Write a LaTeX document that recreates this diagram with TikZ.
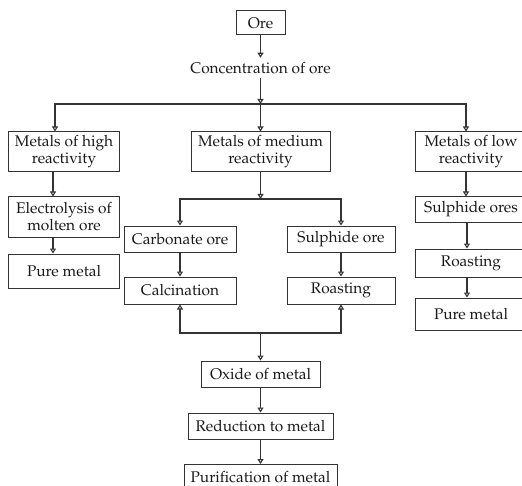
\documentclass[tikz,border=0pt]{standalone}
\usepackage[T1]{fontenc}
\usepackage{mathpazo}
\usetikzlibrary{arrows.meta}
\definecolor{inkgray}{HTML}{333333}
\tikzset{obox/.style={draw=inkgray,line width=1bp,inner sep=0pt,align=center,text=black!90,font=\fontsize{15.5}{17}\selectfont}}
\tikzset{earrow/.style={-{Triangle[open,length=5bp,width=6bp]},draw=inkgray,line width=1.1bp}}

\begin{document}
\begin{tikzpicture}[x=1bp,y=-1bp]
  \useasboundingbox (0,0) rectangle (522,486);
  % top of the chart
  \node[obox,minimum width=49bp,minimum height=24bp] (ore) at (260.5,23) {Ore};
  \node[obox,draw=none,inner sep=4bp] (conc) at (260.5,68) {Concentration of ore};
  \node[obox,minimum width=110bp,minimum height=40bp] (high) at (64,152) {Metals of high\\reactivity};
  \node[obox,minimum width=139bp,minimum height=40bp] (med) at (260.5,152) {Metals of medium\\reactivity};
  \node[obox,minimum width=112bp,minimum height=40bp] (low) at (471,152) {Metals of low\\reactivity};
  % left column
  \node[obox,minimum width=110bp,minimum height=40bp] (elec) at (64,217) {Electrolysis of\\molten ore};
  \node[obox,minimum width=110bp,minimum height=34bp] (hpure) at (64,271) {Pure metal};
  % middle column
  \node[obox,minimum width=112bp,minimum height=26bp] (carb) at (180,239) {Carbonate ore};
  \node[obox,minimum width=108bp,minimum height=26bp] (sulph) at (341,239) {Sulphide ore};
  \node[obox,minimum width=112bp,minimum height=27bp] (calc) at (180,290.5) {Calcination};
  \node[obox,minimum width=108bp,minimum height=27bp] (mroast) at (341,290.5) {Roasting};
  % right column
  \node[obox,minimum width=112bp,minimum height=25bp] (lsulph) at (471,209.5) {Sulphide ores};
  \node[obox,minimum width=112bp,minimum height=28bp] (lroast) at (471,263) {Roasting};
  \node[obox,minimum width=112bp,minimum height=32bp] (lpure) at (471,314) {Pure metal};
  % bottom of the chart
  \node[obox,minimum width=119bp,minimum height=26bp] (oxide) at (260.5,374) {Oxide of metal};
  \node[obox,minimum width=145bp,minimum height=26bp] (redu) at (260.5,426) {Reduction to metal};
  \node[obox,minimum width=153bp,minimum height=26bp] (puri) at (260.5,477.5) {Purification of metal};

  % branch points
  \coordinate (split) at (260.5,104);
  \coordinate (msplit) at (260.5,199);
  \coordinate (join) at (260.5,333);

  % draw the arrows
  \draw[earrow] (ore) -- (conc);
  \draw[earrow] (conc) -- (split);
  \draw[earrow] (split) -| ([xshift=-9bp]high.north);
  \draw[earrow] (split) -- (med);
  \draw[earrow] (split) -| ([xshift=-5bp]low.north);
  \draw[earrow] ([xshift=-11bp]high.south) -- ([xshift=-11bp]elec.north);
  \draw[earrow] ([xshift=-11bp]elec.south) -- ([xshift=-11bp]hpure.north);
  \draw[earrow] (med) -- (msplit);
  \draw[earrow] (msplit) -| (carb.north);
  \draw[earrow] (msplit) -| (sulph.north);
  \draw[earrow] (carb) -- (calc);
  \draw[earrow] (sulph) -- (mroast);
  \draw[earrow] (join) -| (calc.south);
  \draw[earrow] (join) -| (mroast.south);
  \draw[earrow] (join) -- (oxide);
  \draw[earrow] (oxide) -- (redu);
  \draw[earrow] (redu) -- (puri);
  \draw[earrow] ([xshift=-5bp]low.south) -- ([xshift=-5bp]lsulph.north);
  \draw[earrow] ([xshift=-4bp]lsulph.south) -- ([xshift=-4bp]lroast.north);
  \draw[earrow] ([xshift=-4bp]lroast.south) -- ([xshift=-4bp]lpure.north);
\end{tikzpicture}
\end{document}
